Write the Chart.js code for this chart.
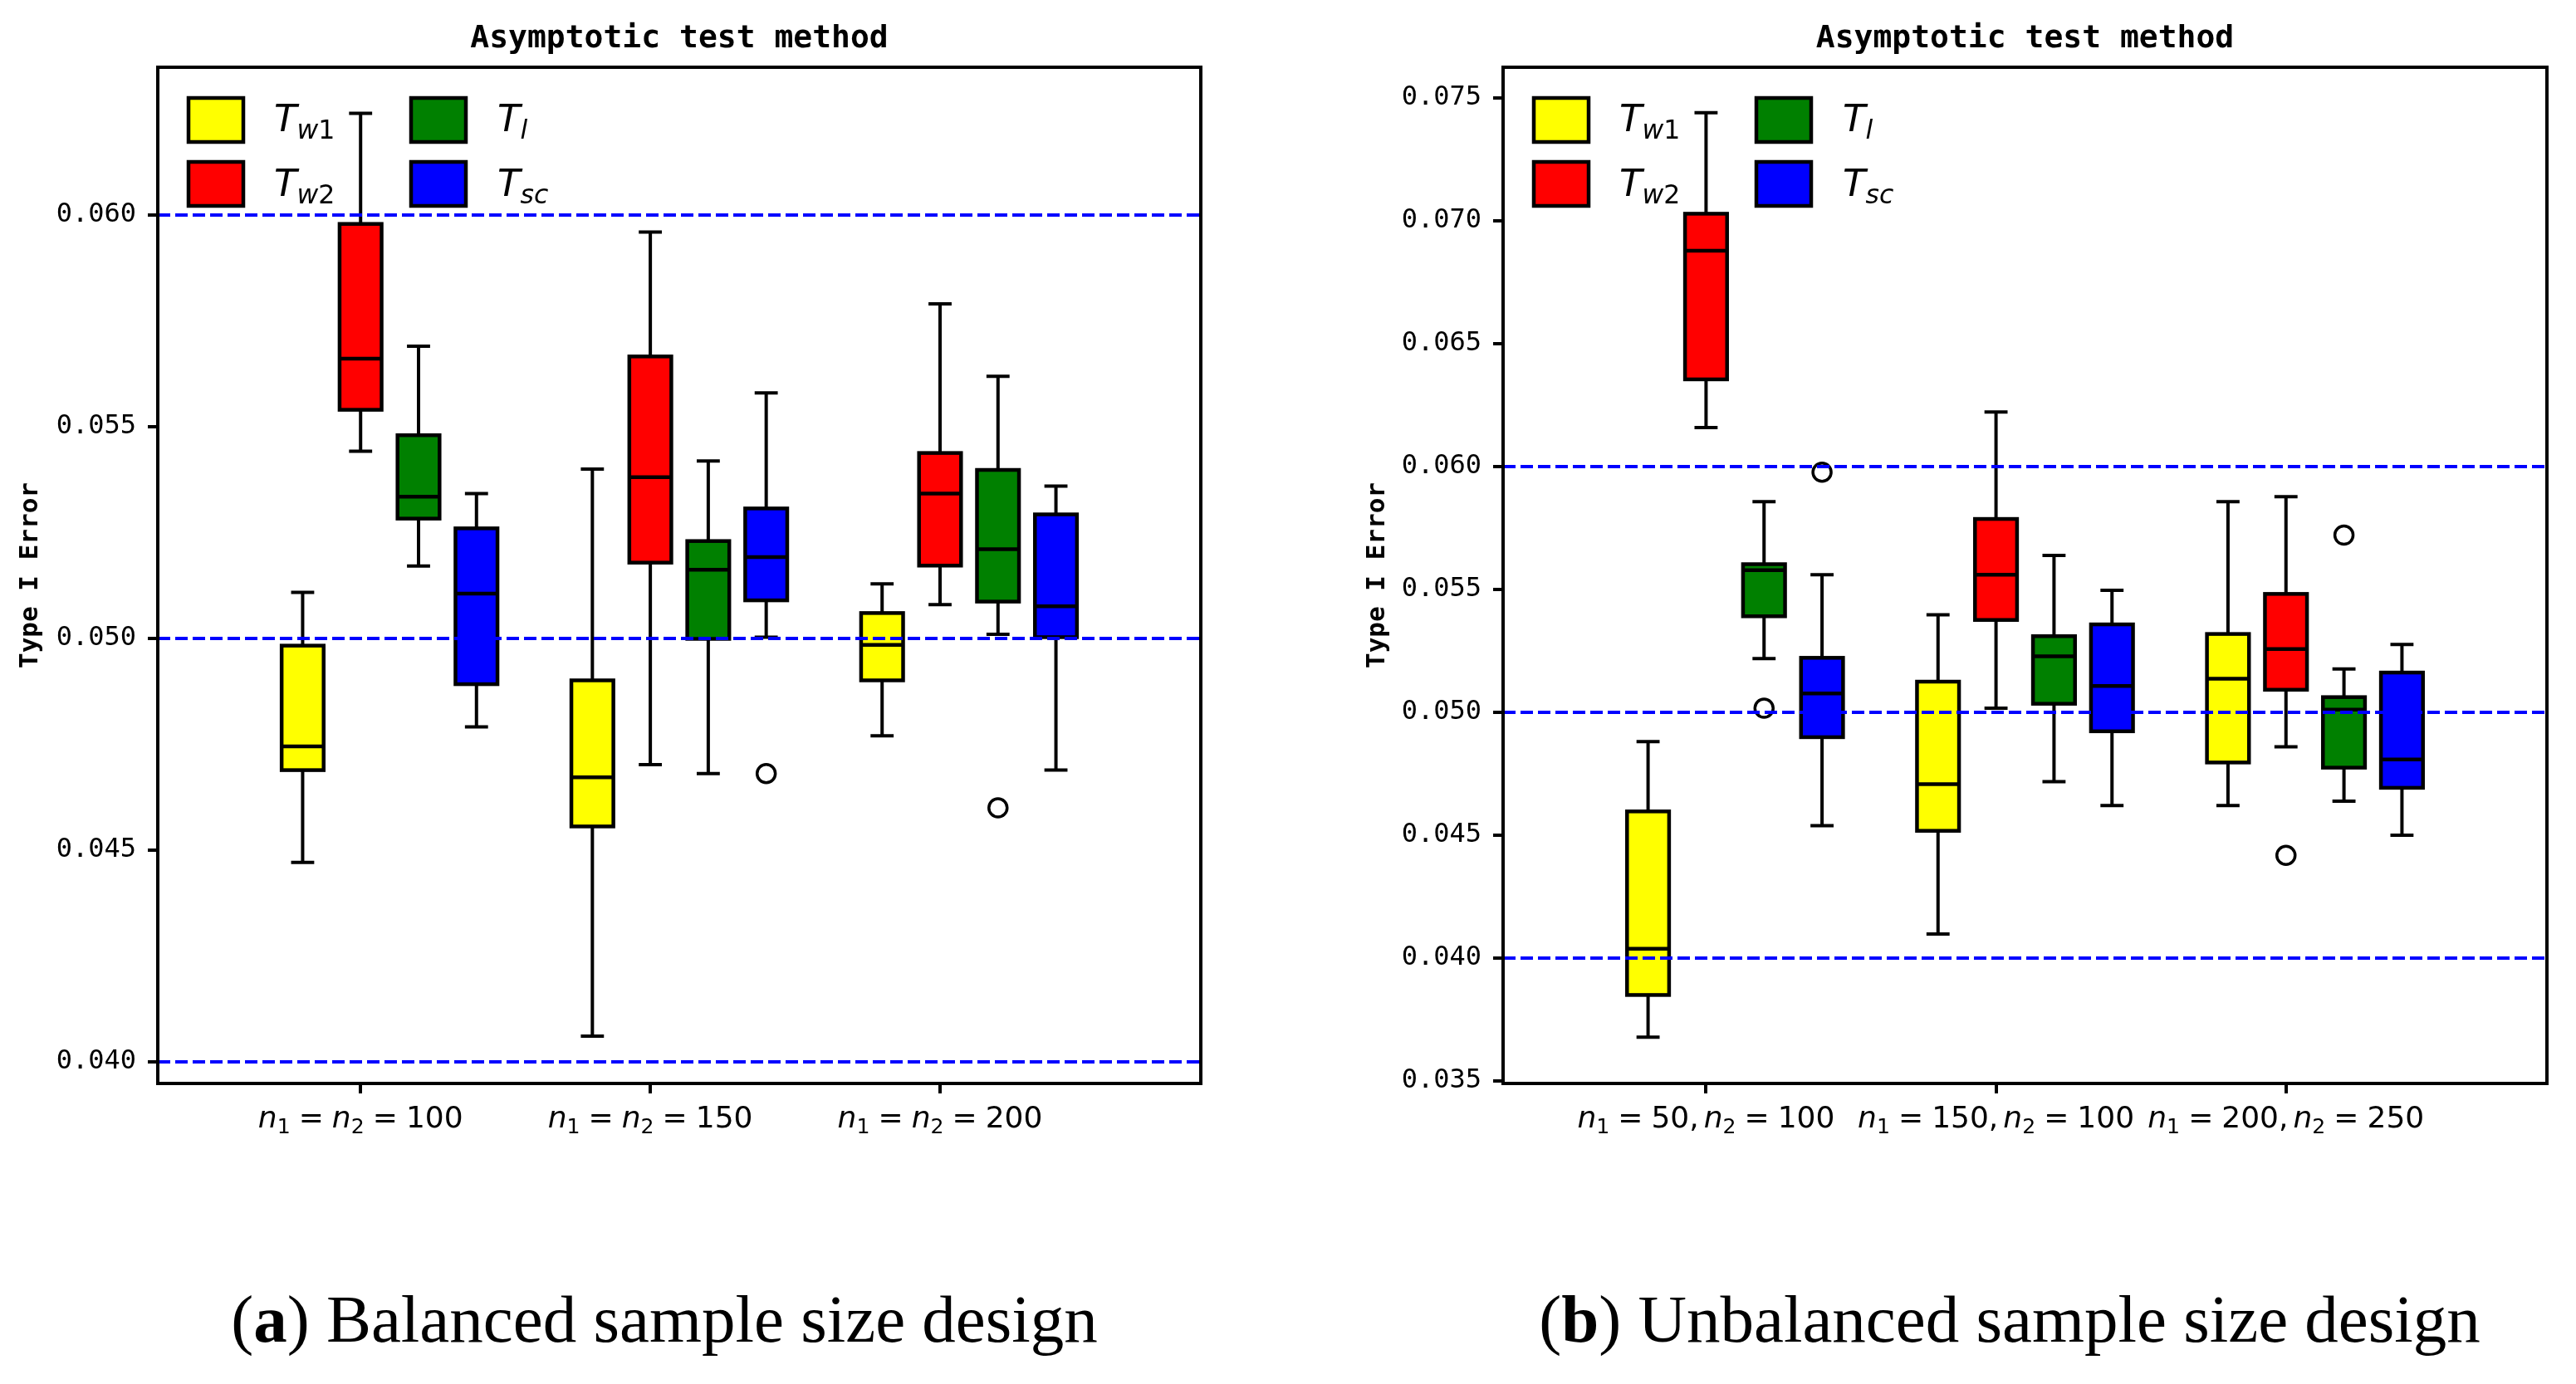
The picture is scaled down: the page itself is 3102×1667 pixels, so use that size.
<!DOCTYPE html>
<html>
<head>
<meta charset="utf-8">
<script src="https://cdn.jsdelivr.net/npm/chart.js@4.4.1/dist/chart.umd.min.js"></script>
<style>
  body { margin: 0; background: #fff; width: 3102px; height: 1667px; position: relative; overflow: hidden; }
  canvas { position: absolute; top: 0; }
  #balanced { left: 0; }
  #unbalanced { left: 1551px; }
  .cap { position: absolute; top: 1549px; font-family: "Liberation Serif", serif; font-size: 81px; line-height: 81px;
         white-space: nowrap; transform: translateX(-50%); color: #000; }
</style>
</head>
<body>
<canvas id="balanced" width="1551" height="1440"></canvas>
<canvas id="unbalanced" width="1551" height="1440"></canvas>
<div class="cap" style="left:800px">(<b>a</b>) Balanced sample size design</div>
<div class="cap" style="left:2420px">(<b>b</b>) Unbalanced sample size design</div>

<script>
// series names / colours (legend is 2 columns: Tw1,Tw2 | Tl,Tsc)
const seriesNames = ['T_{w1}', 'T_{w2}', 'T_l', 'T_{sc}'];
const seriesColors = ['#ffff00', '#ff0000', '#008000', '#0000ff'];
const seriesOffsets = [-0.2, 0, 0.2, 0.4];
const refLines = [0.04, 0.05, 0.06];

// ---- (a) balanced design ----
const balLabels = ['n_1 = n_2 = 100', 'n_1 = n_2 = 150', 'n_1 = n_2 = 200'];
const balTicks = [0.040, 0.045, 0.050, 0.055, 0.060];
// each box: [low whisker, Q1, median, Q3, high whisker]
const balTw1 = [[0.04471, 0.04689, 0.04745, 0.04983, 0.05109], [0.04061, 0.04556, 0.04672, 0.04901, 0.05400], [0.04770, 0.04901, 0.04985, 0.05060, 0.05129]];
const balTw2 = [[0.05442, 0.05540, 0.05661, 0.05979, 0.06240], [0.04702, 0.05179, 0.05381, 0.05666, 0.05960], [0.05080, 0.05172, 0.05342, 0.05438, 0.05790]];
const balTl  = [[0.05171, 0.05283, 0.05335, 0.05480, 0.05690], [0.04681, 0.04999, 0.05162, 0.05230, 0.05419], [0.05010, 0.05087, 0.05211, 0.05398, 0.05619]];
const balTsc = [[0.04791, 0.04892, 0.05106, 0.05260, 0.05342], [0.05003, 0.05090, 0.05192, 0.05307, 0.05580], [0.04689, 0.05003, 0.05076, 0.05293, 0.05360]];
// outliers: [group index, value]
const balTw1Out = [];
const balTw2Out = [];
const balTlOut  = [[2, 0.04600]];
const balTscOut = [[1, 0.04681]];

// ---- (b) unbalanced design ----
const unbLabels = ['n_1 = 50, n_2 = 100', 'n_1 = 150, n_2 = 100', 'n_1 = 200, n_2 = 250'];
const unbTicks = [0.035, 0.040, 0.045, 0.050, 0.055, 0.060, 0.065, 0.070, 0.075];
const unbTw1 = [[0.03678, 0.03850, 0.04038, 0.04597, 0.04881], [0.04098, 0.04518, 0.04708, 0.05125, 0.05397], [0.04621, 0.04796, 0.05137, 0.05319, 0.05857]];
const unbTw2 = [[0.06159, 0.06355, 0.06878, 0.07029, 0.07440], [0.05017, 0.05376, 0.05560, 0.05787, 0.06222], [0.04860, 0.05092, 0.05258, 0.05482, 0.05878]];
const unbTl  = [[0.05219, 0.05391, 0.05579, 0.05603, 0.05857], [0.04718, 0.05035, 0.05228, 0.05310, 0.05639], [0.04639, 0.04775, 0.05011, 0.05062, 0.05177]];
const unbTsc = [[0.04539, 0.04899, 0.05077, 0.05222, 0.05560], [0.04621, 0.04923, 0.05107, 0.05358, 0.05497], [0.04500, 0.04693, 0.04808, 0.05162, 0.05276]];
const unbTw1Out = [];
const unbTw2Out = [[2, 0.04418]];
const unbTlOut  = [[0, 0.05017], [2, 0.05721]];
const unbTscOut = [[0, 0.05977]];

const boxWidth = 0.145;

// tiny mathtext: letters italic, _x / _{xy} subscript
function mathTokens(str) {
  const out = [];
  let i = 0;
  while (i < str.length) {
    const ch = str[i];
    if (ch === ' ') { i++; continue; }
    if (ch === '_') {
      let grp;
      if (str[i + 1] === '{') { const j = str.indexOf('}', i); grp = str.slice(i + 2, j); i = j + 1; }
      else { grp = str[i + 1]; i += 2; }
      for (const c of grp) out.push({ c, sub: true });
      continue;
    }
    out.push({ c: ch, sub: false });
    i++;
  }
  return out;
}

function drawMath(ctx, str, x, y, size, align) {
  const items = mathTokens(str).map(t => {
    const s = t.sub ? size * 0.7 : size;
    const font = (/[A-Za-z]/.test(t.c) ? 'italic ' : '') + s + 'px "DejaVu Sans"';
    ctx.font = font;
    const w = ctx.measureText(t.c).width;
    let pre = 0, post = 0;
    if (t.c === '=') { pre = post = size * 0.278; }
    if (t.c === ',') { post = size * 0.167; }
    return { c: t.c, font, w, pre, post, dy: t.sub ? size * 0.2 : 0 };
  });
  const total = items.reduce((a, b) => a + b.pre + b.w + b.post, 0);
  let cx = align === 'center' ? x - total / 2 : x;
  ctx.textAlign = 'left';
  ctx.textBaseline = 'alphabetic';
  ctx.fillStyle = '#000';
  items.forEach(it => {
    cx += it.pre;
    ctx.font = it.font;
    ctx.fillText(it.c, cx, y + it.dy);
    cx += it.w + it.post;
  });
}

function makeChart(id, labels, ticks, yMin, yMax, boxes, fliers, padLeft, padRight) {
  const boxPlugin = {
    id: 'boxes' + id,
    beforeDatasetsDraw(chart) {
      const { ctx, scales: { x, y } } = chart;
      const hw = (x.getPixelForValue(boxWidth) - x.getPixelForValue(0)) / 2;
      const cw = hw * 0.55;
      ctx.save();
      ctx.strokeStyle = '#000';
      boxes.forEach((ser, si) => {
        ser.forEach((st, gi) => {
          const [lo, q1, med, q3, hi] = st;
          const cx = x.getPixelForValue(gi + seriesOffsets[si]);
          const pLo = y.getPixelForValue(lo), pQ1 = y.getPixelForValue(q1), pMed = y.getPixelForValue(med);
          const pQ3 = y.getPixelForValue(q3), pHi = y.getPixelForValue(hi);
          // whiskers + caps
          ctx.lineWidth = 4;
          ctx.beginPath();
          ctx.moveTo(cx, pQ3); ctx.lineTo(cx, pHi);
          ctx.moveTo(cx, pQ1); ctx.lineTo(cx, pLo);
          ctx.moveTo(cx - cw, pHi); ctx.lineTo(cx + cw, pHi);
          ctx.moveTo(cx - cw, pLo); ctx.lineTo(cx + cw, pLo);
          ctx.stroke();
          // box
          ctx.lineWidth = 4.5;
          ctx.fillStyle = seriesColors[si];
          ctx.fillRect(cx - hw, pQ3, hw * 2, pQ1 - pQ3);
          ctx.strokeRect(cx - hw, pQ3, hw * 2, pQ1 - pQ3);
          // median
          ctx.beginPath();
          ctx.moveTo(cx - hw, pMed); ctx.lineTo(cx + hw, pMed);
          ctx.stroke();
        });
      });
      ctx.restore();
    },
    afterDraw(chart) {
      const { ctx, chartArea: a, scales: { x } } = chart;
      ctx.save();
      // frame
      ctx.lineWidth = 4;
      ctx.strokeStyle = '#000';
      ctx.strokeRect(a.left, a.top, a.right - a.left, a.bottom - a.top);
      // x tick labels
      labels.forEach((lab, i) => drawMath(ctx, lab, x.getPixelForValue(i), a.bottom + 53, 36, 'center'));
      // legend, two columns
      seriesNames.forEach((name, i) => {
        const col = Math.floor(i / 2), row = i % 2;
        const hx = a.left + 37 + col * 268, hy = a.top + 37 + row * 77;
        ctx.fillStyle = seriesColors[i];
        ctx.lineWidth = 4.5;
        ctx.fillRect(hx, hy, 66, 53);
        ctx.strokeRect(hx, hy, 66, 53);
        drawMath(ctx, name, a.left + 140 + col * 269, a.top + 77 + row * 78, 45, 'left');
      });
      ctx.restore();
    }
  };

  const datasets = refLines.map(v => ({
    type: 'line',
    data: [{ x: -0.7, y: v }, { x: 2.9, y: v }],
    borderColor: '#0000ff',
    borderWidth: 4,
    borderDash: [15, 6],
    pointRadius: 0,
    order: 0
  }));
  fliers.forEach((list, si) => {
    datasets.push({
      type: 'scatter',
      data: list.map(([g, v]) => ({ x: g + seriesOffsets[si], y: v })),
      pointRadius: 11,
      pointBorderWidth: 3.5,
      pointBorderColor: '#000',
      pointBackgroundColor: 'rgba(0,0,0,0)',
      order: 1
    });
  });

  return new Chart(document.getElementById(id), {
    type: 'scatter',
    data: { datasets },
    plugins: [boxPlugin],
    options: {
      responsive: false,
      animation: false,
      devicePixelRatio: 1,
      layout: { padding: { left: padLeft, right: padRight, top: 0, bottom: 35 } },
      plugins: {
        legend: { display: false },
        tooltip: { enabled: false },
        title: {
          display: true,
          fullSize: false,
          text: 'Asymptotic test method',
          color: '#000',
          font: { family: 'DejaVu Sans Mono', size: 38, weight: 'bold', lineHeight: 1.2 },
          padding: { top: 24, bottom: 11.4 }
        }
      },
      scales: {
        x: {
          type: 'linear', min: -0.7, max: 2.9,
          afterBuildTicks: s => { s.ticks = labels.map((l, i) => ({ value: i })); },
          afterFit: s => { s.height = 100; },
          ticks: { autoSkip: false, callback: () => '', font: { size: 36 } },
          grid: { drawOnChartArea: false, drawTicks: true, tickLength: 12, tickWidth: 4, lineWidth: 4, tickColor: '#000' },
          border: { display: true, color: '#000', width: 4 }
        },
        y: {
          type: 'linear', min: yMin, max: yMax,
          afterBuildTicks: s => { s.ticks = ticks.map(v => ({ value: v })); },
          afterFit: s => { s.width = 190 - (padLeft ? 2 : 0); },
          ticks: {
            autoSkip: false, color: '#000', padding: 14,
            font: { family: 'DejaVu Sans Mono', size: 32 },
            callback: v => v.toFixed(3)
          },
          grid: { drawOnChartArea: false, drawTicks: true, tickLength: 12, tickWidth: 4, lineWidth: 4, tickColor: '#000' },
          border: { display: true, color: '#000', width: 4 },
          title: {
            display: true, text: 'Type I Error', color: '#000',
            font: { family: 'DejaVu Sans Mono', size: 31, weight: 'bold', lineHeight: 1.2 },
            padding: { top: 18, bottom: 0 }
          }
        }
      }
    }
  });
}

makeChart('balanced', balLabels, balTicks, 0.03949, 0.06349,
  [balTw1, balTw2, balTl, balTsc], [balTw1Out, balTw2Out, balTlOut, balTscOut], 0, 105);
makeChart('unbalanced', unbLabels, unbTicks, 0.0349, 0.07625,
  [unbTw1, unbTw2, unbTl, unbTsc], [unbTw1Out, unbTw2Out, unbTlOut, unbTscOut], 71, 35);
</script>
</body>
</html>
